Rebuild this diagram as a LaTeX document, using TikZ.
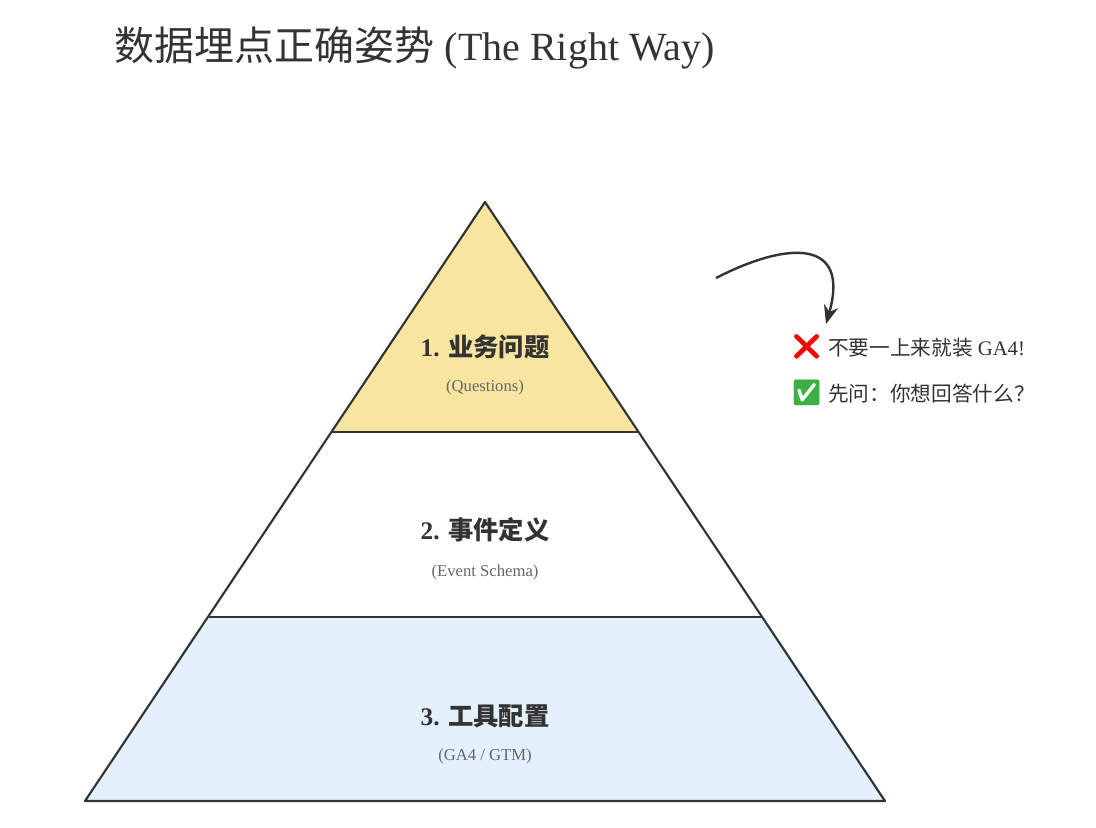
\documentclass[tikz,border=0pt]{standalone}
\usepackage{fontspec}
\setmainfont{Liberation Serif}
\newfontfamily\cjk{Noto Sans CJK SC}
\newfontfamily\emo{Noto Emoji}
\usetikzlibrary{arrows.meta}
\definecolor{topc}{HTML}{F8E6A0}
\definecolor{botc}{HTML}{E3F1FC}
\definecolor{ink}{HTML}{333333}
\definecolor{sub}{HTML}{666666}
\begin{document}
\begin{tikzpicture}[x=0.75pt,y=-0.75pt,
  layer/.style={draw=ink,line width=1.6pt,line join=round},
  head/.style={font=\fontsize{19}{21}\selectfont\bfseries,text=ink},
  subt/.style={font=\fontsize{12.5}{14}\selectfont,text=sub},
  side/.style={font=\fontsize{15.5}{17}\selectfont,text=ink,anchor=west}]
\useasboundingbox (0,0) rectangle (1096,828);
\node[anchor=west,text=ink,font=\fontsize{30}{33}\selectfont] (title) at (110,48) {{\cjk 数据埋点正确姿势} (The Right Way)};
\fill[botc] (209,617) -- (762,617) -- (885,801) -- (85,801) -- cycle;
\fill[topc] (485,202) -- (638,432) -- (332,432) -- cycle;
\draw[layer] (485,202) -- (885,801) -- (85,801) -- cycle;
\draw[layer] (332,432) -- (638,432);
\draw[layer] (209,617) -- (762,617);
\node[head] (h1) at (485,347) {1. {\cjk 业务问题}};
\node[subt] (s1) at (485,387) {(Questions)};
\node[head] (h2) at (485,530) {2. {\cjk 事件定义}};
\node[subt] (s2) at (485,572) {(Event Schema)};
\node[head] (h3) at (485,716) {3. {\cjk 工具配置}};
\node[subt] (s3) at (485,756) {(GA4 / GTM)};
\node[side] (n1) at (786,347) {{\emo\fontsize{19}{19}\selectfont\color{red}❌} {\cjk 不要一上来就装} GA4!};
\node[side] (n2) at (786,393) {{\emo\fontsize{19}{19}\selectfont\color[HTML]{3CB043}✅} {\cjk 先问：你想回答什么？}};
\coordinate (a0) at (716,278);
\coordinate (a1) at (826,324);
\draw[ink,line width=1.8pt,-{Stealth[length=14pt,width=11pt]}] (a0) .. controls (790,240) and (850,240) .. (a1);
\end{tikzpicture}
\end{document}
